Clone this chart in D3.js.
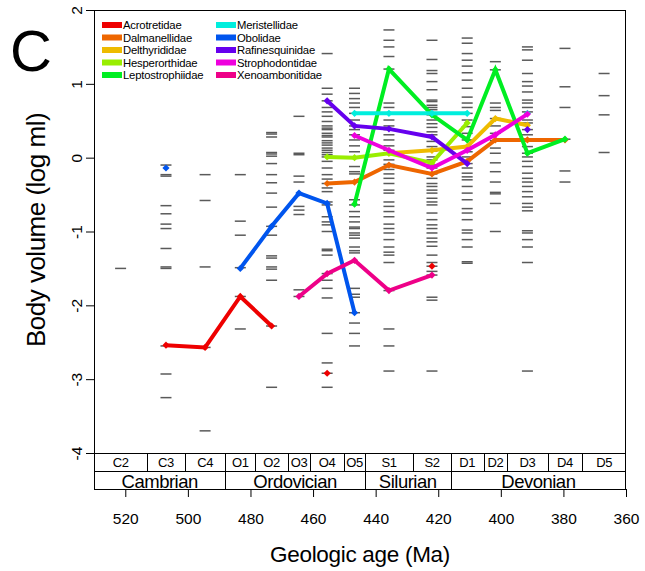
<html lang="en">
  <head>
    <meta charset="utf-8">
    <title>Body volume through the Paleozoic</title>
    <script src="https://d3js.org/d3.v7.min.js"></script>
    <style>
      body { margin: 0; background: white; }
      text { font-family: "Liberation Sans", Arial, sans-serif; fill: black; }
    </style>
  </head>
  <body>
  <script>

  var w = 645;
  var h = 571;

  // stages and their boundaries (Ma)
  var stageNames = ["C2","C3","C4","O1","O2","O3","O4","O5","S1","S2","D1","D2","D3","D4","D5"];
  var stageBounds = [530, 513, 501, 488, 478.5, 468, 461, 450, 443.5, 428, 416, 405.5, 398, 385, 374, 360];
  var periodNames = ["Cambrian","Ordovician","Silurian","Devonian"];
  var periodBounds = [530, 488, 443.5, 416, 360];

  var xTicks = [520, 500, 480, 460, 440, 420, 400, 380, 360];
  var yTicks = [-4, -3, -2, -1, 0, 1, 2];

  // genus body volumes per stage (log ml)
  var gC2 = [-1.50];
  var gC3 = [-0.10, -0.23, -0.25, -0.65, -0.76, -0.90, -0.96, -1.23, -1.48, -1.50, -2.55, -2.93, -3.25];
  var gC4 = [-0.23, -0.58, -1.48, -2.57, -3.70];
  var gO1 = [-0.23, -0.86, -1.05, -1.49, -1.88, -2.32];
  var gO2 = [0.34, 0.32, 0.28, 0.07, 0.05, 0.02, -0.08, -0.23, -0.34, -0.48, -0.67, -0.93, -1.05, -1.33, -1.36, -1.48, -1.51, -1.66, -2.28, -3.11];
  var gO3 = [0.56, 0.06, 0.04, -0.25, -0.33, -0.66, -0.71, -0.77, -1.79, -1.88];
  var gO4 = [1.41, 0.94, 0.86, 0.77, 0.68, 0.62, 0.56, 0.49, 0.43, 0.40, 0.38, 0.33, 0.30, 0.28, 0.23, 0.20, 0.17, 0.13, 0.10, 0.07, 0.04, 0.01,
             -0.05, -0.14, -0.23, -0.29, -0.35, -0.41, -0.46, -0.60, -0.64, -0.80, -0.87, -0.91, -1.00, -1.24, -1.26, -1.32, -1.57, -1.66, -1.77, -1.90, -2.38, -2.78, -2.92, -3.11];
  var gO5 = [0.94, 0.87, 0.80, 0.74, 0.68, 0.60, 0.51, 0.43, 0.38, 0.31, 0.24, 0.16, 0.08, 0.01, -0.12, -0.19, -0.22, -0.33, -0.57, -0.64, -0.73, -0.80,
             -0.87, -0.94, -0.96, -1.02, -1.05, -1.09, -1.21, -1.26, -1.29, -1.77, -1.85, -1.89, -2.10, -2.24, -2.38, -2.55];
  var gS1 = [1.73, 1.59, 1.50, 1.37, 1.20, 0.74, 0.68, 0.60, 0.51, 0.43, 0.38, 0.31, 0.24, 0.16, 0.10, 0.06, -0.03, -0.09, -0.16, -0.22, -0.28, -0.35,
             -0.44, -0.48, -0.60, -0.66, -0.73, -0.80, -0.90, -0.96, -1.02, -1.11, -1.21, -1.28, -1.32, -1.42, -1.80, -2.32, -2.55, -2.89];
  var gS2 = [1.59, 1.33, 1.18, 1.14, 1.03, 0.92, 0.78, 0.76, 0.71, 0.68, 0.65, 0.58, 0.51, 0.46, 0.41, 0.35, 0.31, 0.22, 0.15, 0.09, 0.01, -0.03,
             -0.10, -0.14, -0.22, -0.28, -0.35, -0.39, -0.44, -0.48, -0.55, -0.60, -0.64, -0.75, -0.84, -0.91, -0.96, -1.02, -1.09, -1.14, -1.20,
             -1.32, -1.42, -1.47, -1.54, -1.59, -1.89, -1.93, -2.89];
  var gD1 = [1.62, 1.55, 1.41, 1.32, 1.24, 1.15, 1.05, 0.94, 0.82, 0.74, 0.68, 0.60, 0.51, 0.42, 0.33, 0.24, 0.15, 0.08, 0.01, -0.08, -0.14, -0.21,
             -0.26, -0.30, -0.39, -0.48, -0.57, -0.69, -0.75, -0.84, -0.98, -1.02, -1.11, -1.21, -1.41, -1.43];
  var gD2 = [1.30, 1.19, 0.74, 0.68, 0.64, 0.53, 0.43, 0.33, 0.23, 0.13, 0.06, -0.07, -0.19, -0.33, -0.47, -0.49, -0.62, -1.00];
  var gD3 = [1.50, 1.46, 1.32, 1.14, 1.03, 0.97, 0.89, 0.78, 0.74, 0.68, 0.62, 0.51, 0.47, 0.38, 0.31, 0.24, 0.15, 0.06, 0.01, -0.05, -0.12, -0.21,
             -0.28, -0.33, -0.39, -0.46, -0.53, -0.62, -0.67, -0.72, -0.99, -1.02, -1.11, -1.21, -1.42, -2.89];
  var gD4 = [1.48, 0.96, 0.68, 0.25, -0.18, -0.33];
  var gD5 = [1.14, 0.84, 0.58, 0.07];
  var genera = [gC2, gC3, gC4, gO1, gO2, gO3, gO4, gO5, gS1, gS2, gD1, gD2, gD3, gD4, gD5];

  // family means per stage (null = absent)
  var familyNames = ["Acrotretidae","Dalmanellidae","Delthyrididae","Hesperorthidae","Leptostrophiidae",
                     "Meristellidae","Obolidae","Rafinesquinidae","Strophodontidae","Xenoambonitidae"];
  var familyColors = ["#ee0000","#ee6600","#eebb00","#99ee00","#00ee22",
                      "#00eedd","#0055ee","#6600ee","#ee00dd","#ee0088"];
  var acrotretidae     = [null, -2.54, -2.57, -1.88, -2.28, null, -2.92, null, null, -1.47, null, null, null, null, null];
  var dalmanellidae    = [null, null, null, null, null, null, -0.35, -0.33, -0.10, -0.22, -0.05, 0.24, 0.24, 0.24, null];
  var delthyrididae    = [null, null, null, null, null, null, null, null, 0.06, 0.10, 0.15, 0.53, 0.44, null, null];
  var hesperorthidae   = [null, null, null, null, null, null, 0.01, 0.00, 0.06, -0.07, 0.47, null, null, null, null];
  var leptostrophiidae = [null, null, null, null, null, null, null, -0.63, 1.20, 0.58, 0.24, 1.19, 0.06, 0.25, null];
  var meristellidae    = [null, null, null, null, null, null, null, 0.60, 0.60, 0.60, 0.60, null, 0.60, null, null];
  var obolidae         = [null, -0.14, null, -1.50, -0.93, -0.48, -0.62, -2.10, null, null, null, null, null, null, null];
  var rafinesquinidae  = [null, null, null, null, null, null, 0.77, 0.43, 0.39, 0.28, -0.08, null, 0.38, null, null];
  var strophodontidae  = [null, null, null, null, null, null, null, 0.30, 0.10, -0.14, 0.10, 0.31, 0.59, null, null];
  var xenoambonitidae  = [null, null, null, null, null, -1.88, -1.57, -1.39, -1.80, -1.59, null, null, null, null, null];
  var families = [acrotretidae, dalmanellidae, delthyrididae, hesperorthidae, leptostrophiidae,
                  meristellidae, obolidae, rafinesquinidae, strophodontidae, xenoambonitidae];

  var plot = {left: 94, right: 626, top: 10, bottom: 453};

  var xScale = d3.scaleLinear()
      .domain([530, 360])
      .range([plot.left, plot.right]);

  var yScale = d3.scaleLinear()
      .domain([-4, 2])
      .range([plot.bottom, plot.top]);

  var stageMid = stageNames.map((s, i) => (stageBounds[i] + stageBounds[i + 1]) / 2);

  var svg = d3.select("body")
    .append("svg")
      .attr("width", w)
      .attr("height", h);

  svg.append("rect")
    .attr("width", w)
    .attr("height", h)
    .attr("fill", "white");

  // panel letter
  svg.append("text")
    .attr("x", 10)
    .attr("y", 70.5)
    .style("font-size", "58px")
    .text("C");

  // genus dashes
  var dashes = svg.append("g").attr("id", "genera");
  genera.forEach(function(vals, i) {
    var cx = xScale(stageMid[i]);
    dashes.selectAll(null)
      .data(vals)
      .enter().append("line")
        .attr("x1", cx - 5.5)
        .attr("x2", cx + 5.5)
        .attr("y1", d => yScale(d))
        .attr("y2", d => yScale(d))
        .attr("stroke", "#5a5a5a")
        .attr("stroke-width", 1.5);
  });

  // family lines
  var line = d3.line()
      .defined(d => d != null)
      .x((d, i) => xScale(stageMid[i]))
      .y(d => yScale(d));

  var diamond = d3.symbol().type(d3.symbolSquare).size(26);

  families.forEach(function(vals, k) {
    var g = svg.append("g").attr("class", "family");
    g.append("path")
      .attr("d", line(vals))
      .attr("fill", "none")
      .attr("stroke", familyColors[k])
      .attr("stroke-width", 4)
      .attr("stroke-linejoin", "miter");
    g.selectAll("path.pt")
      .data(vals.map((v, i) => ({v: v, i: i})).filter(d => d.v != null))
      .enter().append("path")
        .attr("class", "pt")
        .attr("d", diamond)
        .attr("transform", d => `translate(${xScale(stageMid[d.i])},${yScale(d.v)}) rotate(45)`)
        .attr("fill", familyColors[k]);
  });

  // legend
  var legend = svg.append("g").attr("id", "legend");
  familyNames.forEach(function(name, k) {
    var col = Math.floor(k / 5), row = k % 5;
    var lx = col == 0 ? 102 : 216;
    var ly = 25 + row * 12.5;
    legend.append("rect")
      .attr("x", lx)
      .attr("y", ly - 3)
      .attr("width", 20)
      .attr("height", 6)
      .attr("fill", familyColors[k]);
    legend.append("text")
      .attr("x", lx + 21)
      .attr("y", ly + 4)
      .style("font-size", "11.3px")
      .style("letter-spacing", "-0.2px")
      .text(name);
  });

  // frame
  var frame = svg.append("g").attr("stroke", "black").attr("stroke-width", 1);
  frame.append("line").attr("x1", plot.left).attr("x2", plot.right).attr("y1", plot.top + 0.5).attr("y2", plot.top + 0.5);
  frame.append("line").attr("x1", plot.left + 0.5).attr("x2", plot.left + 0.5).attr("y1", plot.top).attr("y2", 489);
  frame.append("line").attr("x1", plot.right - 0.5).attr("x2", plot.right - 0.5).attr("y1", plot.top).attr("y2", 489);

  // time scale table
  [453, 471, 489].forEach(function(yy) {
    frame.append("line").attr("x1", plot.left).attr("x2", plot.right).attr("y1", yy + 0.5).attr("y2", yy + 0.5);
  });
  stageBounds.slice(1, -1).forEach(function(b) {
    frame.append("line").attr("x1", Math.round(xScale(b)) + 0.5).attr("x2", Math.round(xScale(b)) + 0.5)
      .attr("y1", 453).attr("y2", 471);
  });
  periodBounds.slice(1, -1).forEach(function(b) {
    frame.append("line").attr("x1", Math.round(xScale(b)) + 0.5).attr("x2", Math.round(xScale(b)) + 0.5)
      .attr("y1", 471).attr("y2", 489);
  });
  svg.selectAll("text.stage")
    .data(stageNames)
    .enter().append("text")
      .attr("class", "stage")
      .attr("x", (d, i) => xScale(stageMid[i]))
      .attr("y", 467)
      .attr("text-anchor", "middle")
      .style("font-size", "13px")
      .style("letter-spacing", "-0.4px")
      .text(d => d);
  svg.selectAll("text.period")
    .data(periodNames)
    .enter().append("text")
      .attr("class", "period")
      .attr("x", (d, i) => xScale((periodBounds[i] + periodBounds[i + 1]) / 2))
      .attr("y", 487.5)
      .attr("text-anchor", "middle")
      .style("font-size", "18.5px")
      .style("letter-spacing", "-0.5px")
      .text(d => d);

  // x axis (below the table)
  var xAxis = d3.axisBottom(xScale).tickValues(xTicks).tickSize(8).tickFormat(d => String(d));
  var gx = svg.append("g")
      .attr("transform", "translate(0, 489)")
      .call(xAxis);
  gx.select(".domain").remove();
  gx.selectAll("text").style("font-size", "15.5px").attr("dy", null).attr("y", 35);
  gx.selectAll("line").attr("stroke", "black");

  // y axis
  var yAxis = d3.axisLeft(yScale).tickValues(yTicks).tickSize(8).tickFormat(d => String(d));
  var gy = svg.append("g")
      .attr("transform", `translate(${plot.left}, 0)`)
      .call(yAxis);
  gy.select(".domain").remove();
  gy.selectAll("text")
      .style("font-size", "15.5px")
      .attr("x", null).attr("dy", null)
      .attr("text-anchor", "middle")
      .attr("transform", "translate(-12, 0) rotate(-90)");

  // axis titles
  svg.append("text")
    .attr("x", (plot.left + plot.right) / 2)
    .attr("y", 562)
    .attr("text-anchor", "middle")
    .style("font-size", "22.5px")
    .style("letter-spacing", "-0.3px")
    .text("Geologic age (Ma)");

  svg.append("text")
    .attr("transform", "translate(44.5, 230) rotate(-90)")
    .attr("text-anchor", "middle")
    .style("font-size", "26px")
    .style("letter-spacing", "-0.5px")
    .text("Body volume (log ml)");

  </script>
  </body>
</html>
